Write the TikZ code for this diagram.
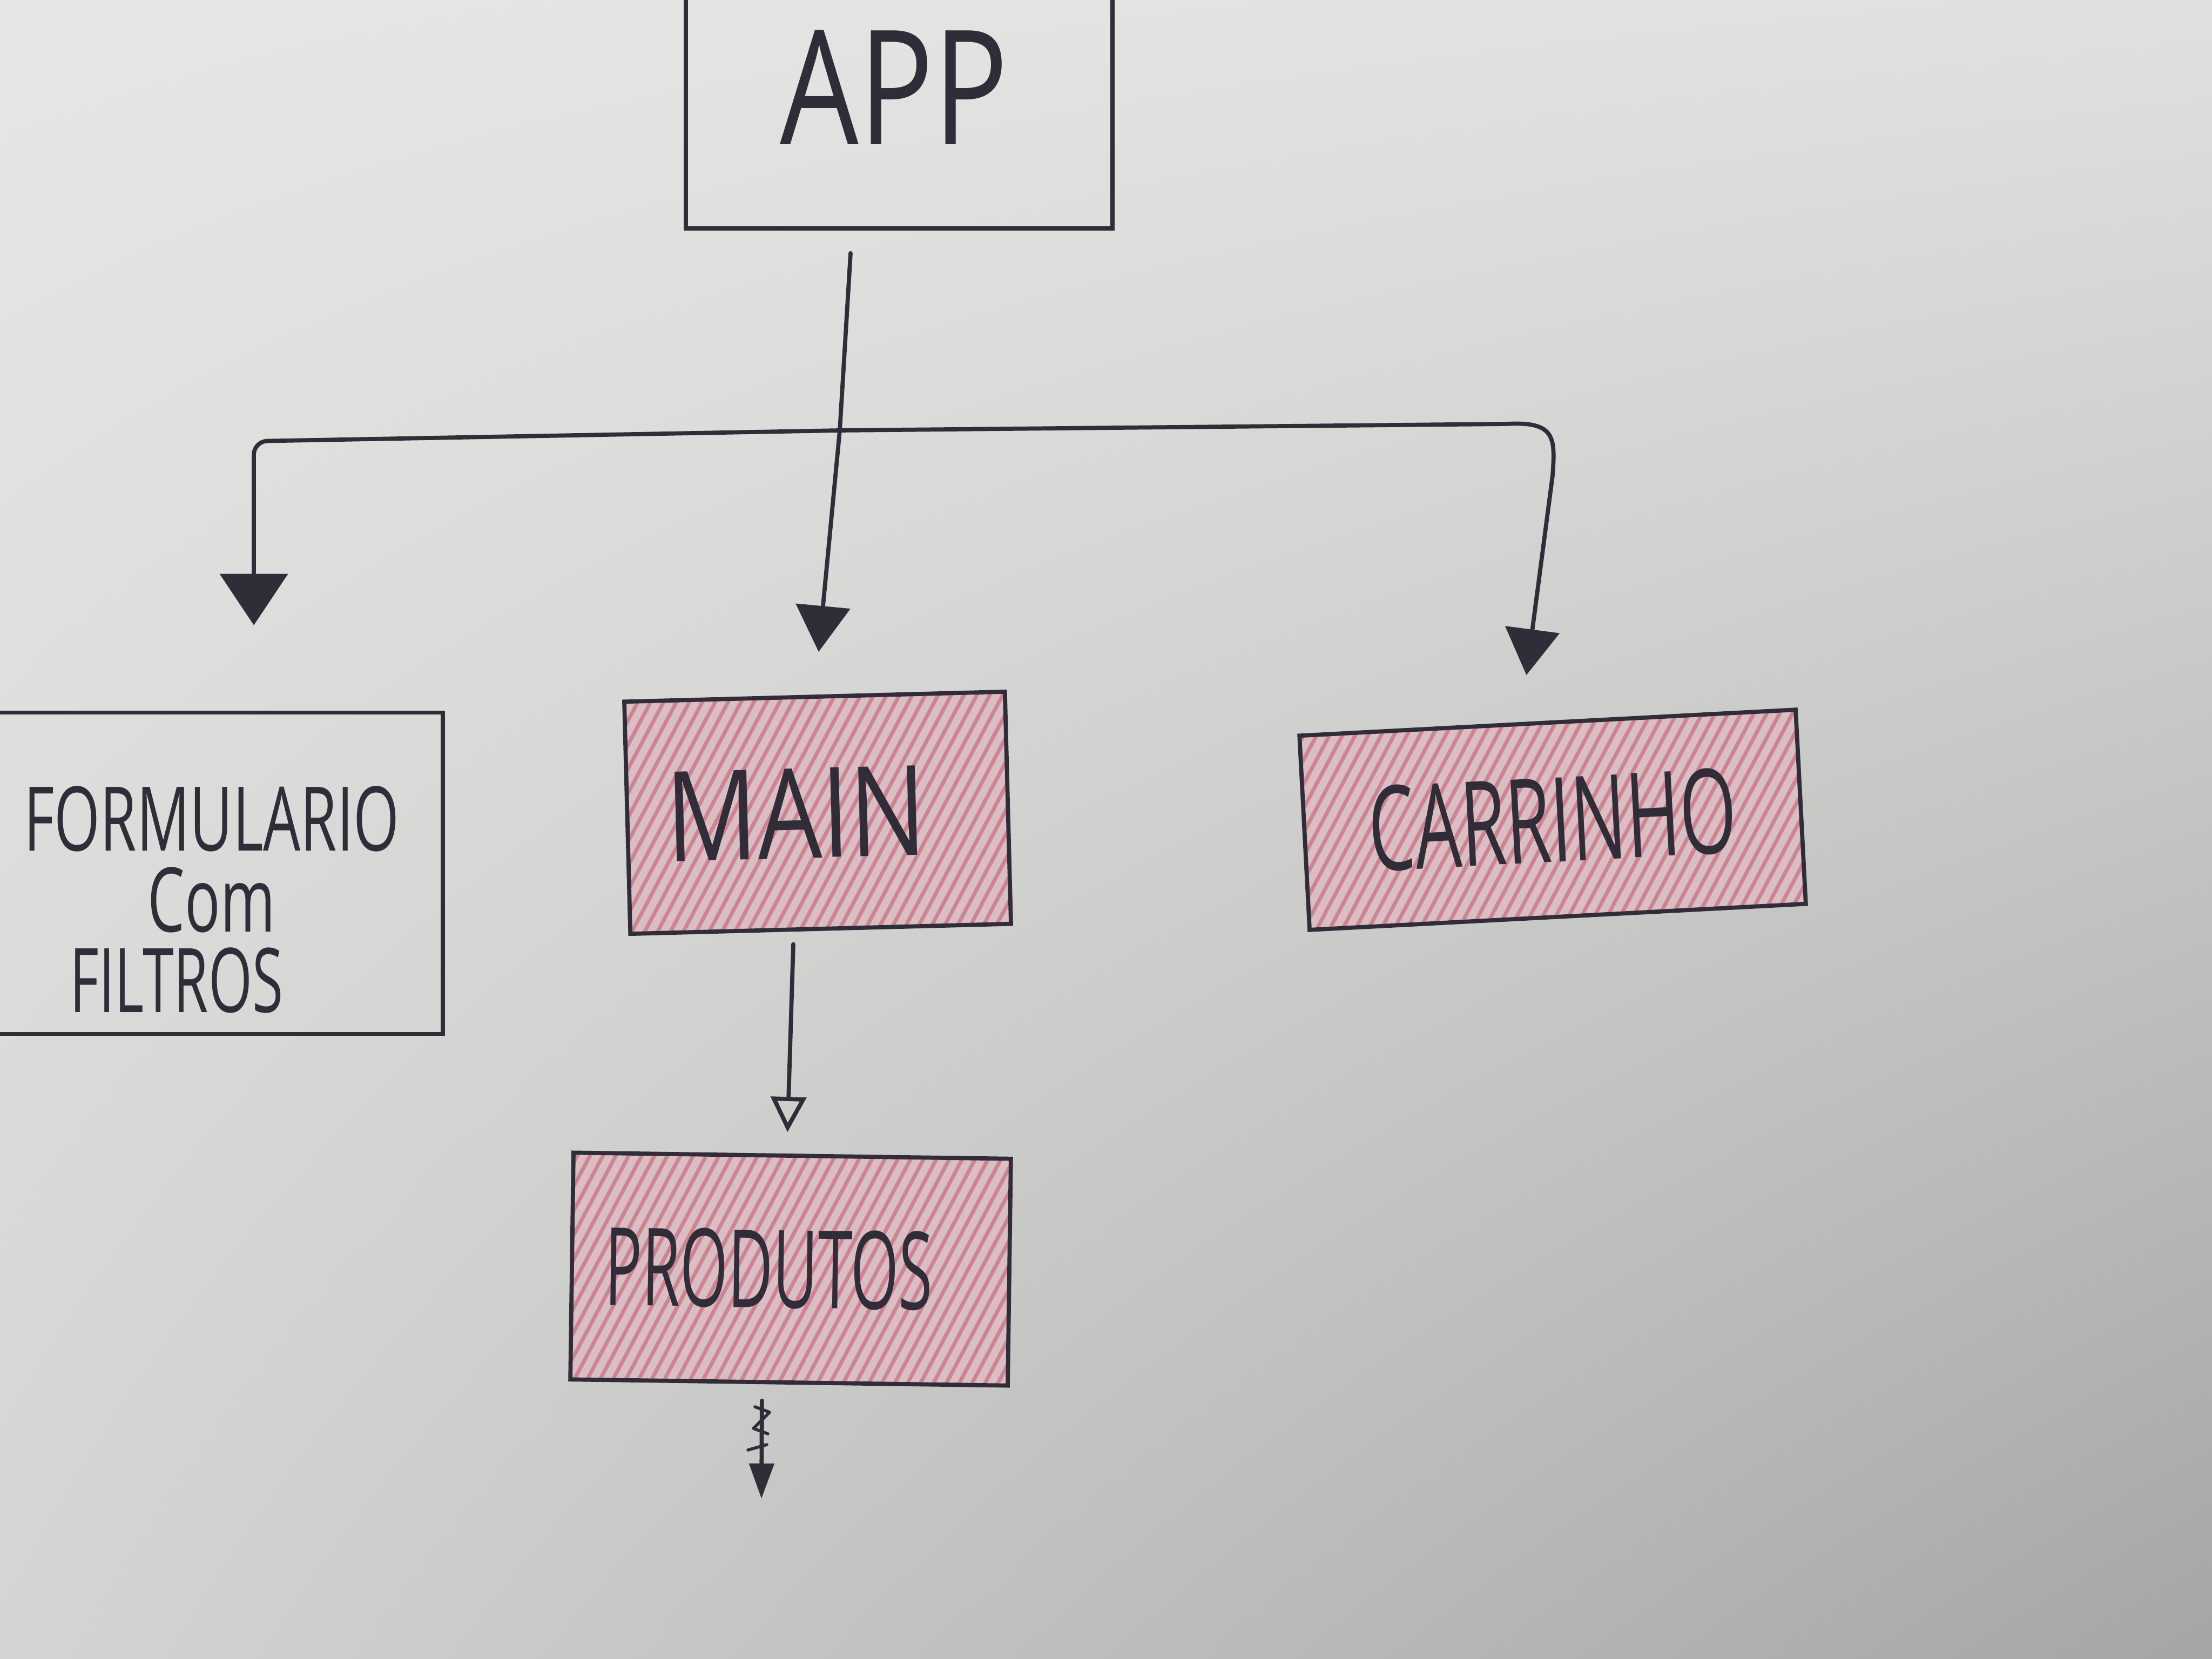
\documentclass[tikz,border=0pt]{standalone}
\usepackage{fontspec}
\setmainfont{Open Sans}
\usepackage{graphicx}
\usetikzlibrary{arrows.meta,patterns.meta,shadings}
\definecolor{ink}{RGB}{48,44,56}
\definecolor{pinkbase}{RGB}{218,190,196}
\definecolor{pinkline}{RGB}{204,132,146}
\definecolor{paperUL}{RGB}{230,230,228}
\definecolor{paperUR}{RGB}{224,224,222}
\definecolor{paperLL}{RGB}{212,212,210}
\definecolor{paperLR}{RGB}{165,165,163}
\newcommand{\hwtext}[2]{\scalebox{#1}[1]{#2}}
\begin{document}
\begin{tikzpicture}[
  box/.style={draw=ink, line width=2.2pt, rectangle, inner sep=0pt, text=ink},
  redbox/.style={box, preaction={fill=pinkbase},
     pattern={Lines[angle=62,distance=6pt,line width=2pt]}, pattern color=pinkline},
  conn/.style={draw=ink, line width=2.2pt, line cap=round, line join=round},
  bigtip/.style={-{Triangle[width=1.25cm,length=0.95cm]}},
  midtip/.style={-{Triangle[width=1.0cm,length=0.85cm]}},
  opentip/.style={-{Triangle[open,width=0.65cm,length=0.65cm]}},
  smalltip/.style={-{Triangle[width=0.45cm,length=0.65cm]}},
  lbl/.style={text=ink, inner sep=0pt}
]
\useasboundingbox (0,0) rectangle (40.96,-30.72);
\shade[upper left=paperUL, upper right=paperUR, lower left=paperLL, lower right=paperLR]
  (0,0) rectangle (40.96,-30.72);

% nodes
\node[box, minimum width=7.9cm, minimum height=7cm] (app) at (16.65,-0.73) {};
\node[lbl, font=\fontsize{84}{84}\selectfont] (apptext) at (16.56,-1.62) {\hwtext{0.78}{APP}};

\node[box, minimum width=8.5cm, minimum height=5.95cm] (form) at (3.95,-16.17) {};
\node[lbl, align=center, font=\fontsize{47}{42.5}\selectfont] (formtext) at (3.92,-16.66)
  {\hwtext{0.66}{FORMULARIO}\\ \hwtext{0.66}{Com}\hspace*{1.3cm}\\ \hwtext{0.63}{FILTROS}\hspace*{1.3cm}};

\node[redbox, rotate=1.5, minimum width=7.05cm, minimum height=4.3cm,
      font=\fontsize{66}{66}\selectfont] (main) at (15.14,-15.05) {\hspace*{-0.8cm}\hwtext{0.81}{MAIN}};

\node[redbox, rotate=3, minimum width=9.2cm, minimum height=3.6cm,
      font=\fontsize{62}{62}\selectfont] (car) at (28.75,-15.18) {\hwtext{0.62}{CARRINHO}};

\node[redbox, rotate=-0.8, minimum width=8.1cm, minimum height=4.2cm,
      font=\fontsize{57}{57}\selectfont] (prod) at (14.64,-23.5) {\hspace*{-0.8cm}\hwtext{0.57}{PRODUTOS}};

\coordinate (j) at (15.55,-7.97);
\coordinate (pend) at (14.1,-27.75);

% connectors
\draw[conn] ([xshift=-0.9cm,yshift=-0.42cm]app.south) -- (j);
\draw[conn, bigtip, rounded corners=0.25cm, shorten >=1.58cm]
  (j) -- (4.7,-8.17) -- ([xshift=0.75cm]form.north);
\draw[conn, midtip, shorten >=0.8cm] (j) -- (main.north);
\draw[conn, midtip, shorten >=0.85cm]
  (j) -- (27.9,-7.85) .. controls (28.8,-7.8) and (28.8,-8.1) .. (28.75,-8.8)
  -- ([xshift=-0.5cm]car.north);
\draw[conn, opentip, shorten <=0.25cm, shorten >=0.4cm]
  ([xshift=-0.5cm]main.south) -- ([xshift=-0.1cm]prod.north);
\draw[conn, smalltip, shorten <=0.3cm] ([xshift=-0.5cm]prod.south) -- (pend);
\draw[conn, line width=1.6pt] (13.98,-26.05) -- (14.25,-26.15) -- (13.95,-26.45) -- (14.22,-26.55)
  (13.85,-26.85) -- (14.2,-26.75);
\end{tikzpicture}
\end{document}
